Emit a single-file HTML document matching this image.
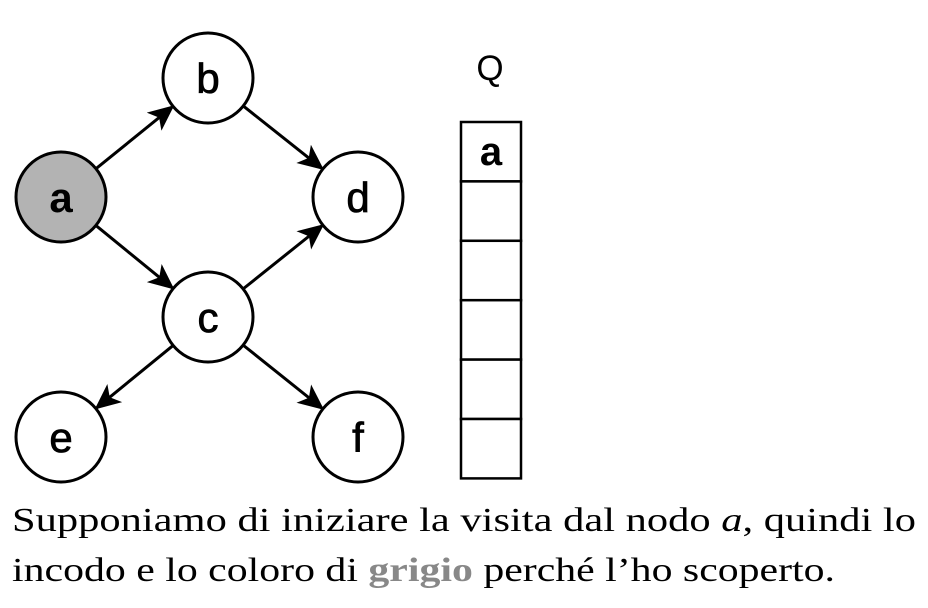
<!DOCTYPE html>
<html><head><meta charset="utf-8"><style>
html,body{margin:0;padding:0;background:#fff;}
svg{display:block;}
</style></head><body>
<svg id="c" width="928" height="608" viewBox="0 0 928 608" xmlns="http://www.w3.org/2000/svg">
<defs>
<marker id="ah2" viewBox="0 0 10 10" refX="9" refY="5" markerWidth="26" markerHeight="26" markerUnits="userSpaceOnUse" orient="auto"><path d="M0,0.5 L10,5 L0,9.5 L2.5,5 z" fill="#000"/></marker></defs>
<g id="edges"></g>
<g id="nodes"></g>
<text x="490" y="80" font-family="Liberation Sans, sans-serif" font-size="35" text-anchor="middle">Q</text>
<g id="queue"></g>
<text x="12" y="531" font-family="Liberation Serif, serif" font-size="34" textLength="904" lengthAdjust="spacingAndGlyphs">Supponiamo di iniziare la visita dal nodo <tspan font-style="italic">a</tspan>, quindi lo</text>
<text x="12" y="581" font-family="Liberation Serif, serif" font-size="34" textLength="823" lengthAdjust="spacingAndGlyphs">incodo e lo coloro di <tspan font-weight="bold" fill="#888">grigio</tspan> perché l’ho scoperto.</text>
</svg>
<script>
const nodeNames=['a','b','c','d','e','f'];
const nodeX=[61,208,208,358,61,358];
const nodeY=[197,78,317,197,437,437];
const edgeFrom=['a','a','b','c','c','c'];
const edgeTo=['b','c','d','d','e','f'];
const queueItems=['a','','','','',''];
const NS='http://www.w3.org/2000/svg',R=45;
const eg=document.getElementById('edges'),ng=document.getElementById('nodes'),qg=document.getElementById('queue');
edgeFrom.forEach((f,i)=>{const a=nodeNames.indexOf(f),b=nodeNames.indexOf(edgeTo[i]);
const dx=nodeX[b]-nodeX[a],dy=nodeY[b]-nodeY[a],L=Math.hypot(dx,dy),ux=dx/L,uy=dy/L;
const l=document.createElementNS(NS,'line');
l.setAttribute('x1',nodeX[a]+ux*R);l.setAttribute('y1',nodeY[a]+uy*R);
l.setAttribute('x2',nodeX[b]-ux*(R+1));l.setAttribute('y2',nodeY[b]-uy*(R+1));
l.setAttribute('stroke','#000');l.setAttribute('stroke-width','3');l.setAttribute('marker-end','url(#ah2)');


eg.appendChild(l);});
nodeNames.forEach((n,i)=>{const c=document.createElementNS(NS,'circle');
c.setAttribute('cx',nodeX[i]);c.setAttribute('cy',nodeY[i]);c.setAttribute('r',R);
c.setAttribute('fill',n==='a'?'#b3b3b3':'#fff');c.setAttribute('stroke','#000');c.setAttribute('stroke-width','3');


ng.appendChild(c);
const t=document.createElementNS(NS,'text');
t.setAttribute('x',nodeX[i]);t.setAttribute('y',nodeY[i]+15);t.setAttribute('text-anchor','middle');
t.setAttribute('font-family','Liberation Sans, sans-serif');t.setAttribute('font-size','42');
t.setAttribute('font-weight',n==='a'?'bold':'500');
if(n!=='a')t.setAttribute('stroke','#000');
if(n!=='a')t.setAttribute('stroke-width','0.8');
t.textContent=n;


ng.appendChild(t);});
const qx=461,qy=122,qw=60,qh=59.4;
queueItems.forEach((v,i)=>{const r=document.createElementNS(NS,'rect');
r.setAttribute('x',qx);r.setAttribute('y',qy+i*qh);r.setAttribute('width',qw);r.setAttribute('height',qh);
r.setAttribute('fill','#fff');r.setAttribute('stroke','#000');r.setAttribute('stroke-width','2.5');


qg.appendChild(r);
if(v){const t=document.createElementNS(NS,'text');
t.setAttribute('x',qx+qw/2);t.setAttribute('y',qy+i*qh+43);t.setAttribute('text-anchor','middle');
t.setAttribute('font-family','Liberation Sans, sans-serif');t.setAttribute('font-size','40');t.setAttribute('font-weight','bold');
t.textContent=v;


qg.appendChild(t);}});
</script>
</body></html>
